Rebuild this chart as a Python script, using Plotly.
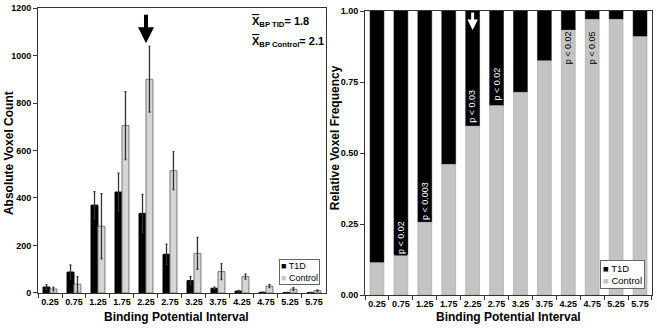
import plotly.graph_objects as go

intervals = ["0.25", "0.75", "1.25", "1.75", "2.25", "2.75",
             "3.25", "3.75", "4.25", "4.75", "5.25", "5.75"]
t1d_count = [25, 88, 370, 425, 335, 163, 52, 20, 8, 3, 2, 1]
t1d_err = [10, 30, 57, 80, 80, 43, 17, 5, 3, 1, 1, 1]
control_count = [17, 37, 281, 705, 900, 515, 167, 90, 69, 29, 16, 10]
control_err = [8, 32, 137, 143, 138, 80, 67, 34, 10, 6, 6, 3]
control_rel = [0.114, 0.143, 0.257, 0.46, 0.595, 0.667, 0.714, 0.825, 0.933, 0.971, 0.971, 0.91]
t1d_rel = [1 - c for c in control_rel]

p_intervals = ["0.75", "1.25", "2.25", "2.75", "4.25", "4.75"]
p_texts = ["p < 0.02", "p < 0.003", "p < 0.03", "p < 0.02", "p < 0.02", "p < 0.05"]
p_ypos = [0.204, 0.33, 0.665, 0.743, 0.87, 0.87]
p_on_black = [True, True, True, True, False, False]

series_names = ["T1D", "Control"]
T1D_COLOR = "black"
CTRL_COLOR_L = "#d6d6d6"
CTRL_COLOR_R = "#c4c4c4"

FONT = "Liberation Sans, Arial, sans-serif"

fig = go.Figure()
BW = 0.29
fig.add_trace(go.Bar(x=intervals, y=t1d_count, name=series_names[0], width=BW, offset=-BW,
                     marker=dict(color=T1D_COLOR, line=dict(color="black", width=1)),
                     error_y=dict(type="data", array=t1d_err, color="#333", thickness=1.3, width=1),
                     xaxis="x", yaxis="y"))
fig.add_trace(go.Bar(x=intervals, y=control_count, name=series_names[1], width=BW, offset=0,
                     marker=dict(color=CTRL_COLOR_L, line=dict(color="#7a7a7a", width=1)),
                     error_y=dict(type="data", array=control_err, color="#333", thickness=1.3, width=1),
                     xaxis="x", yaxis="y"))

RW = 0.58
fig.add_trace(go.Bar(x=intervals, y=t1d_rel, base=control_rel, name=series_names[0],
                     width=RW, offset=-RW / 2,
                     marker=dict(color=T1D_COLOR, line=dict(color="black", width=0.5)),
                     xaxis="x2", yaxis="y2"))
fig.add_trace(go.Bar(x=intervals, y=control_rel, name=series_names[1], width=RW, offset=-RW / 2,
                     marker=dict(color=CTRL_COLOR_R, line=dict(color="#999", width=0.5)),
                     xaxis="x2", yaxis="y2"))

tickfont = dict(family=FONT, size=9, color="black", weight="bold")
axis_common = dict(showline=True, linecolor="#333", linewidth=1, mirror=True,
                   ticks="outside", ticklen=4, tickcolor="#333", showgrid=False,
                   zeroline=False, tickfont=tickfont)
TITLEFONT = dict(family=FONT, size=12, weight="bold", color="black")

idx = {v: i for i, v in enumerate(intervals)}
C = dict(xanchor="center", yanchor="middle", showarrow=False, xref="paper", yref="paper")


def legend_text(ctrl_color):
    return (f"<span style='color:{T1D_COLOR}'>■</span> {series_names[0]}<br>"
            f"<span style='color:{ctrl_color}'>■</span> {series_names[1]}")


annotations = [
    dict(text="Absolute Voxel Count", x=-0.047, y=0.495, textangle=-90, font=TITLEFONT, **C),
    dict(text="Relative Voxel Frequency", x=0.4837, y=0.55, textangle=-90, font=TITLEFONT, **C),
    dict(text="Binding Potential Interval", x=0.2248, y=-0.0767, font=TITLEFONT, **C),
    dict(text="Binding Potential Interval", x=0.767, y=-0.0767, font=TITLEFONT, **C),
    dict(text="<span style='text-decoration:overline'>X</span><sub>BP TID</sub>= 1.8",
         xref="paper", yref="paper", x=0.346, y=0.951, xanchor="left", yanchor="middle",
         showarrow=False, font=dict(family=FONT, size=11, weight="bold")),
    dict(text="<span style='text-decoration:overline'>X</span><sub>BP Control</sub>= 2.1",
         xref="paper", yref="paper", x=0.346, y=0.8815, xanchor="left", yanchor="middle",
         showarrow=False, font=dict(family=FONT, size=11, weight="bold")),
    dict(text="", x=idx["2.25"], y=1052, xref="x", yref="y", ax=0, ay=-30, showarrow=True,
         arrowhead=2, arrowsize=0.8, arrowwidth=4, arrowcolor="black"),
    dict(text="", x=idx["2.25"], y=0.933, xref="x2", yref="y2", ax=0, ay=-19, showarrow=True,
         arrowhead=2, arrowsize=0.7, arrowwidth=3, arrowcolor="white"),
    # legends
    dict(text=legend_text("#c8c8c8"), xref="paper", yref="paper", x=0.459, y=0.1254,
         xanchor="right", yanchor="top", align="left", showarrow=False,
         bgcolor="white", bordercolor="#666", borderwidth=1, borderpad=1,
         font=dict(family=FONT, size=9, color="black")),
    dict(text=legend_text(CTRL_COLOR_R), xref="paper", yref="paper", x=0.9886, y=0.122,
         xanchor="right", yanchor="top", align="left", showarrow=False,
         bgcolor="white", bordercolor="#666", borderwidth=1, borderpad=2,
         font=dict(family=FONT, size=9.5, color="black")),
]
for xi, t, yp, ob in zip(p_intervals, p_texts, p_ypos, p_on_black):
    annotations.append(dict(text=t, x=idx[xi], y=yp, xref="x2", yref="y2", showarrow=False,
                            textangle=-90, xanchor="center", yanchor="middle",
                            font=dict(family=FONT, size=9,
                                      color="white" if ob else "black"),
                            bgcolor="black" if ob else "rgba(0,0,0,0)", borderpad=1))

fig.update_layout(
    width=657, height=331,
    margin=dict(l=38, r=5, t=8, b=36),
    paper_bgcolor="white", plot_bgcolor="white",
    template="none",
    barmode="overlay",
    font=dict(family=FONT, color="black"),
    xaxis=dict(domain=[0, 0.469], type="category", range=[-0.5, 11.5], tickangle=0,
               tickson="boundaries", anchor="y", **axis_common),
    yaxis=dict(domain=[0.007, 1.0], range=[0, 1200], dtick=200, anchor="x", **axis_common),
    xaxis2=dict(domain=[0.5326, 1.0], type="category", range=[-0.5, 11.5], tickangle=0,
                tickson="boundaries", anchor="y2", **axis_common),
    yaxis2=dict(domain=[0, 0.9895], range=[0, 1], tickvals=[0, 0.25, 0.5, 0.75, 1.0],
                tickformat=".2f", anchor="x2", **axis_common),
    annotations=annotations,
    showlegend=False,
)

fig.write_html("out.html", config={"displayModeBar": False},
               post_script="document.body.style.margin='0';document.body.style.overflow='hidden';")
